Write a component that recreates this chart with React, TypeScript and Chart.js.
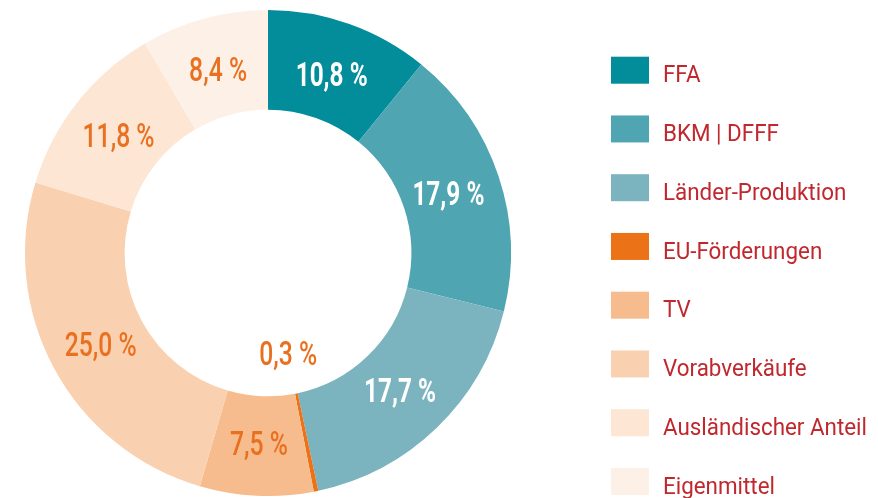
import React, { useEffect, useRef } from "react";
import { Chart, registerables } from "chart.js";

Chart.register(...registerables);

const categories = [
  "FFA",
  "BKM | DFFF",
  "Länder-Produktion",
  "EU-Förderungen",
  "TV",
  "Vorabverkäufe",
  "Ausländischer Anteil",
  "Eigenmittel",
];
const values = [10.8, 17.9, 17.7, 0.3, 7.5, 25.0, 11.8, 8.4];
const sliceColors = [
  "#038c99",
  "#50a5b2",
  "#7bb4bf",
  "#ec7218",
  "#f7bc8e",
  "#fad1b0",
  "#fde6d4",
  "#fdf0e6",
];
const valueLabelColors = [
  "#ffffff",
  "#ffffff",
  "#ffffff",
  "#e9701f",
  "#e9701f",
  "#e9701f",
  "#e9701f",
  "#e9701f",
];
const legendTextColor = "#c0282e";

const fmt = (v: number) => v.toFixed(1).replace(".", ",") + " %";

const overlayPlugin = {
  id: "overlay",
  afterDatasetsDraw(chart: any) {
    const ctx: CanvasRenderingContext2D = chart.ctx;
    const meta = chart.getDatasetMeta(0);
    ctx.save();
    // value labels
    meta.data.forEach((arc: any, i: number) => {
      const p = arc.getProps(
        ["startAngle", "endAngle", "innerRadius", "outerRadius", "x", "y"],
        true
      );
      const mid = (p.startAngle + p.endAngle) / 2;
      const r =
        i === 3 ? p.innerRadius - 41 : (p.innerRadius + p.outerRadius) / 2 - 3;
      const tx = p.x + Math.cos(mid) * r;
      const ty = p.y + Math.sin(mid) * r;
      const white = valueLabelColors[i] === "#ffffff";
      ctx.font = (white ? "bold " : "500 ") + "33px Roboto, 'Noto Sans', sans-serif";
      const refW = ctx.measureText("25,0 %").width;
      const sx = 72 / refW;
      ctx.save();
      ctx.translate(tx, ty);
      ctx.scale(sx, 1);
      ctx.fillStyle = valueLabelColors[i];
      ctx.textAlign = "center";
      ctx.textBaseline = "alphabetic";
      ctx.fillText(fmt(values[i]), 0, 12);
      ctx.restore();
    });
    // legend
    ctx.font = "24px Roboto, 'Noto Sans', sans-serif";
    const legW = ctx.measureText("Ausländischer Anteil").width;
    const lsx = 204 / legW;
    categories.forEach((c, i) => {
      const top = 56.7 + 58.75 * i;
      ctx.fillStyle = sliceColors[i];
      ctx.fillRect(611, top, 38, 27);
      ctx.save();
      ctx.translate(663, top + 25.6);
      ctx.scale(lsx, 1);
      ctx.fillStyle = legendTextColor;
      ctx.textAlign = "left";
      ctx.textBaseline = "alphabetic";
      ctx.fillText(c, 0, 0);
      ctx.restore();
    });
    ctx.restore();
  },
};

export default function App() {
  const ref = useRef<HTMLCanvasElement | null>(null);
  useEffect(() => {
    if (!ref.current) return;
    const chart = new Chart(ref.current, {
      type: "doughnut",
      data: {
        labels: categories,
        datasets: [
          {
            data: values,
            backgroundColor: sliceColors,
            borderWidth: 0,
          },
        ],
      },
      options: {
        responsive: false,
        animation: false,
        cutout: "59%",
        layout: { padding: { left: 25, right: 367, top: 8, bottom: 0 } },
        plugins: {
          legend: { display: false },
          tooltip: { enabled: false },
        },
      },
      plugins: [overlayPlugin],
    });
    return () => chart.destroy();
  }, []);
  return (
    <div style={{ position: "absolute", left: 0, top: 0, width: 878, height: 498, background: "#fff" }}>
      <canvas ref={ref} width={878} height={498} />
    </div>
  );
}
